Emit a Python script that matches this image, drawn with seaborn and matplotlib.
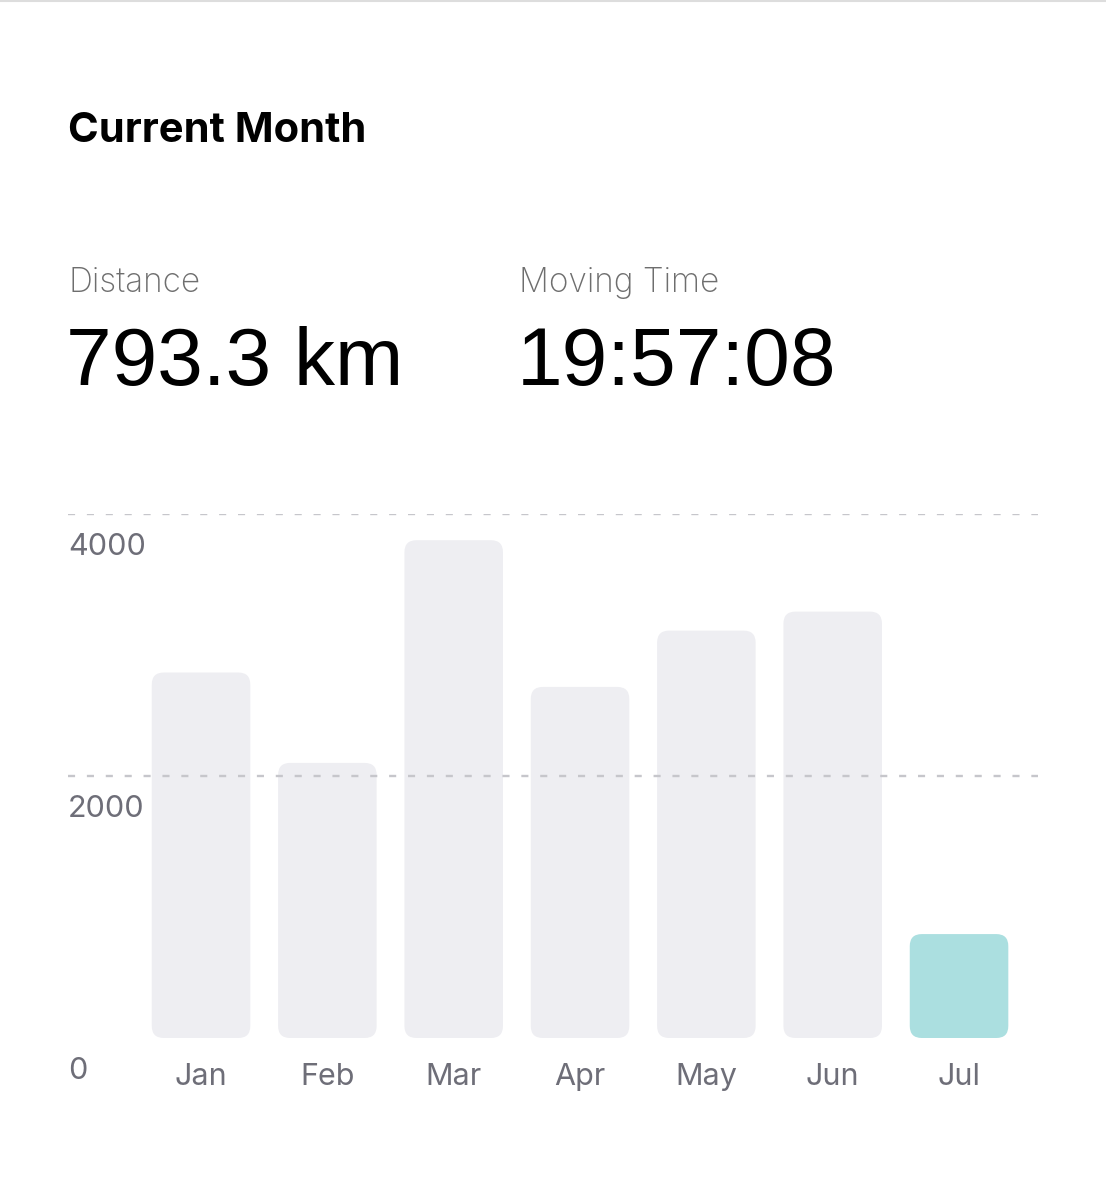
import matplotlib
matplotlib.use("Agg")
import matplotlib.pyplot as plt
from matplotlib.patches import FancyBboxPatch
from matplotlib.lines import Line2D
import matplotlib.transforms as mtransforms
import seaborn as sns
import pandas as pd

# ---- data ----
months = ["Jan", "Feb", "Mar", "Apr", "May", "Jun", "Jul"]
distance = [2790, 2100, 3800, 2680, 3110, 3255, 793.3]
highlight = ["past", "past", "past", "past", "past", "past", "current"]
y_ticks = [0, 2000, 4000]
y_tick_labels = ["0", "2000", "4000"]
grid_values = [2000, 4000]
title = "Current Month"
stat_labels = ["Distance", "Moving Time"]
stat_values = ["793.3 km", "19:57:08"]

W, H = 1106, 1200
sns.set_theme(style="white")
plt.rcParams["font.family"] = ["Inter", "DejaVu Sans"]

fig = plt.figure(figsize=(W / 100, H / 100), dpi=100)
fig.patch.set_facecolor("white")

def fx(px):
    return px / W

def fy(py):
    return 1 - py / H

# axes: x 68..1038 px, y 514..1038 px
ax = fig.add_axes([fx(68), fy(1038), fx(1038) - fx(68), (1038 - 514) / H])
ax.set_facecolor("none")

df = pd.DataFrame({"month": months, "distance": distance, "kind": highlight})
sns.barplot(data=df, x="month", y="distance", hue="kind",
            palette={"past": "#EEEEF2", "current": "#ABDFE0"},
            width=0.78, legend=False, ax=ax, saturation=1, dodge=False)

xmin, xmax = -1.053, 6.625
ymin, ymax = 0, 4000
ax.set_xlim(xmin, xmax)
ax.set_ylim(ymin, ymax)

# rounded corners
px_per_x = (1038 - 68) / (xmax - xmin)
px_per_y = (1038 - 514) / (ymax - ymin)
radius_px = 12
r = radius_px / px_per_x
asp = px_per_x / px_per_y
for p in list(ax.patches):
    x0, y0 = p.get_x(), p.get_y()
    w, h = p.get_width(), p.get_height()
    if h == 0:
        continue
    fc = p.get_facecolor()
    p.remove()
    fb = FancyBboxPatch((x0, y0), w, h,
                        boxstyle=f"round,pad=0,rounding_size={r}",
                        mutation_aspect=asp, fc=fc, ec="none", zorder=1)
    ax.add_patch(fb)

# dashed gridlines
for gv in grid_values:
    ax.axhline(gv, color="#C6C6CB", lw=1.7, ls=(0, (3, 5)), zorder=2)

# y labels (left aligned, below their lines)
tr = mtransforms.offset_copy(ax.get_yaxis_transform(), fig=fig, x=0, y=-33, units="dots")
for v, lab in zip(y_ticks, y_tick_labels):
    ax.text(0, v, lab, transform=tr, ha="left", va="center",
            fontsize=22, color="#6E6E78")

ax.set_yticks([])
ax.set_xlabel("")
ax.set_ylabel("")
ax.tick_params(axis="x", length=0, pad=18, labelsize=22, labelcolor="#6E6E78")
for s in ax.spines.values():
    s.set_visible(False)

# header texts
fig.text(fx(68), fy(131), title, ha="left", va="center", fontsize=30,
         fontweight="bold", color="black")
fig.text(fx(68), fy(283), stat_labels[0], ha="left", va="center", fontsize=24,
         color="#6E6E6E", fontweight="light")
fig.text(fx(519), fy(283), stat_labels[1], ha="left", va="center", fontsize=24,
         color="#6E6E6E", fontweight="light")
fig.text(fx(66), fy(364), stat_values[0], ha="left", va="center", fontsize=59,
         color="black", family=["Liberation Sans", "DejaVu Sans"])
fig.text(fx(517), fy(364), stat_values[1], ha="left", va="center", fontsize=59,
         color="black", family=["Liberation Sans", "DejaVu Sans"])

# thin top border
fig.add_artist(Line2D([0, 1], [fy(1), fy(1)], transform=fig.transFigure,
                      color="#DDDDDD", lw=1.5))

fig.savefig("out.png", dpi=100, facecolor="white")
